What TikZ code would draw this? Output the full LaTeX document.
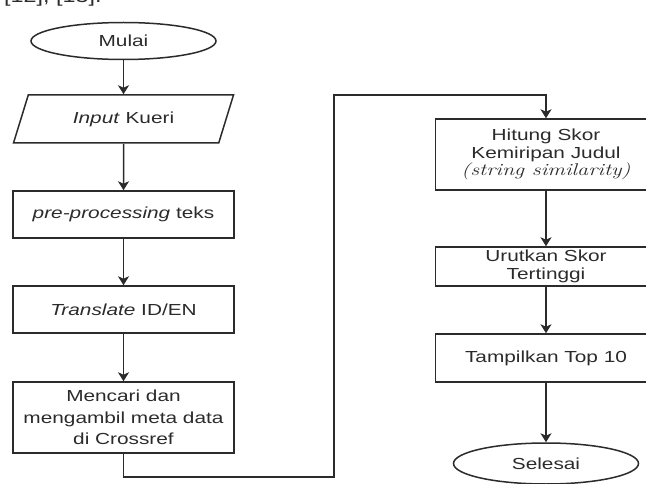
\documentclass[tikz,border=0pt]{standalone}
\usepackage{fontspec}
\newfontfamily\boxfont[FakeStretch=1.3]{Liberation Sans}
\newfontfamily\miringfont[FakeStretch=1.3]{Latin Modern Roman}
\usepackage{tikz}
\usetikzlibrary{shapes.geometric, arrows.meta, positioning}
\definecolor{garis}{HTML}{2B2B2B}

\begin{document}
\begin{tikzpicture}[x=1pt, y=-1pt,
	every node/.style={font=\boxfont\fontsize{16}{21.5}\selectfont, text=garis},
	proses/.style={draw=garis, line width=1.5pt, rectangle, minimum width=221pt, minimum height=47pt, align=center, inner sep=2pt},
	terminal/.style={draw=garis, line width=1.5pt, ellipse, minimum width=185pt, minimum height=37pt, inner sep=0pt},
	masukan/.style={draw=garis, line width=1.5pt, trapezium, trapezium left angle=52, trapezium right angle=128, trapezium stretches body, minimum width=220pt, minimum height=48pt, inner sep=2pt},
	panah/.style={draw=garis, line width=1.5pt, -{Stealth[width=11pt,length=9pt,inset=2.5pt]}}]
			\useasboundingbox (0,0) rectangle (646,484);
			\clip (0,0) rectangle (646,484);
			\node[anchor=base west, inner sep=0pt, font=\boxfont\fontsize{18}{20}\selectfont] (kutipan) at (4,2.5) {[12], [13].};
			
			% kolom kiri
			\node[terminal] (mulai) at (123.5,41) {Mulai};
			\node[masukan] (input) at (123.5,119) {\textit{Input} Kueri};
			\node[proses] (praproses) at (123.5,214.5) {\textit{pre-processing} teks};
			\node[proses] (terjemah) at (123.5,309.5) {\textit{Translate} ID/EN};
			\node[proses, minimum height=71pt] (crossref) at (123.5,417.5) {Mencari dan\\mengambil meta data\\di Crossref};
			\draw[panah] (mulai) -- (input);
			\draw[panah] (input) -- (praproses);
			\draw[panah] (praproses) -- (terjemah);
			\draw[panah] (terjemah) -- (crossref);
			
			% kolom kanan
			\node[proses, minimum height=71pt, font=\boxfont\fontsize{16}{17.5}\selectfont] (skor) at (546,154.5) {Hitung Skor\\Kemiripan Judul\\{\miringfont\fontsize{17}{17.5}\selectfont\itshape (string similarity)}};
			\node[proses, minimum height=39pt, font=\boxfont\fontsize{16}{17.5}\selectfont] (urutkan) at (546,266.5) {Urutkan Skor\\Tertinggi};
			\node[proses, minimum height=48pt] (top) at (546,358) {Tampilkan Top 10};
			\node[terminal, minimum height=41pt] (selesai) at (546,463.5) {Selesai};
			\draw[panah] (skor) -- (urutkan);
			\draw[panah] (urutkan) -- (top);
			\draw[panah] (top) -- (selesai);
			
			% sambungan antar kolom
			\coordinate (belokbawah) at (334,477);
			\coordinate (belokatas) at (334,95);
			\draw[panah] (crossref.south) |- (belokbawah) -- (belokatas) -| (skor.north);
		\end{tikzpicture}
\end{document}
